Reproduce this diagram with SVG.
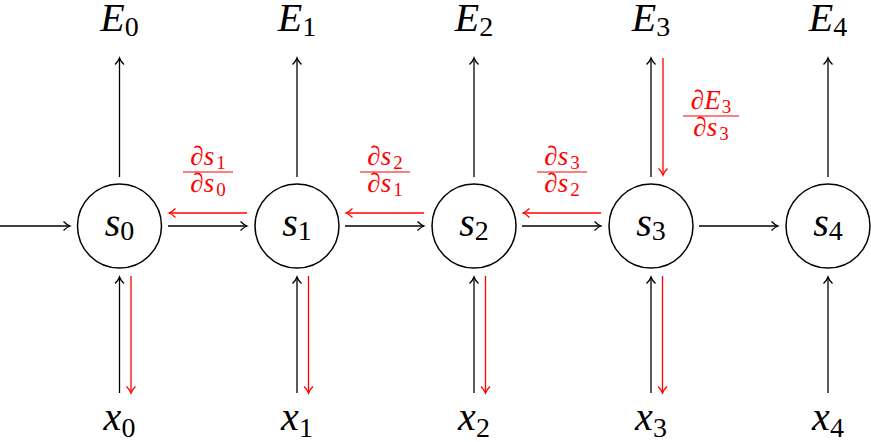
<svg xmlns="http://www.w3.org/2000/svg" width="871" height="442" viewBox="0 0 871 442">
<defs>
<marker id="ab" markerWidth="12" markerHeight="12" refX="10" refY="6" orient="auto" markerUnits="userSpaceOnUse"><path d="M3.5 1.5 Q7 5 10 6 Q7 7 3.5 10.5" fill="none" stroke="#000" stroke-width="1.3"/></marker>
<marker id="ar" markerWidth="12" markerHeight="12" refX="10" refY="6" orient="auto" markerUnits="userSpaceOnUse"><path d="M3.5 1.5 Q7 5 10 6 Q7 7 3.5 10.5" fill="none" stroke="#f00" stroke-width="1.3"/></marker>
</defs>
<g id="connectors" fill="none" stroke-width="1.3">
<g stroke="#000" marker-end="url(#ab)">
<line x1="0" y1="226" x2="70" y2="226"/>
<line x1="168" y1="226" x2="247" y2="226"/>
<line x1="345" y1="226" x2="424" y2="226"/>
<line x1="522" y1="226" x2="601" y2="226"/>
<line x1="699" y1="226" x2="778" y2="226"/>
<line x1="119.5" y1="177" x2="119.5" y2="58"/>
<line x1="297" y1="177" x2="297" y2="58"/>
<line x1="474" y1="177" x2="474" y2="58"/>
<line x1="651" y1="177" x2="651" y2="58"/>
<line x1="828" y1="177" x2="828" y2="58"/>
<line x1="119.5" y1="393" x2="119.5" y2="277"/>
<line x1="297" y1="393" x2="297" y2="277"/>
<line x1="474" y1="393" x2="474" y2="277"/>
<line x1="651" y1="393" x2="651" y2="277"/>
<line x1="828" y1="393" x2="828" y2="277"/>
</g>
<g stroke="#f00" marker-end="url(#ar)">
<line x1="247" y1="213" x2="169" y2="213"/>
<line x1="424" y1="213" x2="346" y2="213"/>
<line x1="601" y1="213" x2="523" y2="213"/>
<line x1="663" y1="58" x2="663" y2="175"/>
<line x1="131" y1="276" x2="131" y2="393"/>
<line x1="308.5" y1="276" x2="308.5" y2="393"/>
<line x1="485.5" y1="276" x2="485.5" y2="393"/>
<line x1="662.5" y1="276" x2="662.5" y2="393"/>
</g>
</g>
<g id="grad-labels" fill="#f00" text-anchor="middle" font-size="27" font-family="Liberation Serif">
<text x="208" y="165">∂<tspan font-style="italic">s</tspan><tspan font-size="19" dx="2" dy="4">1</tspan></text>
<line x1="183" y1="172" x2="233" y2="172" stroke="#f00" stroke-width="1.2"/>
<text x="208" y="192">∂<tspan font-style="italic">s</tspan><tspan font-size="19" dx="2" dy="4">0</tspan></text>
<text x="385" y="165">∂<tspan font-style="italic">s</tspan><tspan font-size="19" dx="2" dy="4">2</tspan></text>
<line x1="360" y1="172" x2="410" y2="172" stroke="#f00" stroke-width="1.2"/>
<text x="385" y="192">∂<tspan font-style="italic">s</tspan><tspan font-size="19" dx="2" dy="4">1</tspan></text>
<text x="562" y="165">∂<tspan font-style="italic">s</tspan><tspan font-size="19" dx="2" dy="4">3</tspan></text>
<line x1="537" y1="172" x2="587" y2="172" stroke="#f00" stroke-width="1.2"/>
<text x="562" y="192">∂<tspan font-style="italic">s</tspan><tspan font-size="19" dx="2" dy="4">2</tspan></text>
<text x="711" y="109">∂<tspan font-style="italic">E</tspan><tspan font-size="19" dx="1" dy="4">3</tspan></text>
<line x1="683" y1="116" x2="739" y2="116" stroke="#f00" stroke-width="1.2"/>
<text x="711" y="136">∂<tspan font-style="italic">s</tspan><tspan font-size="19" dx="2" dy="4">3</tspan></text>
</g>
<g font-family="Liberation Serif" font-size="40" text-anchor="middle">
<g id="s0"><circle cx="119.5" cy="226" r="42" fill="#fff" stroke="#000" stroke-width="1.5"/><text x="119.5" y="236"><tspan font-style="italic">s</tspan><tspan font-size="28" dy="4">0</tspan></text></g>
<g id="s1"><circle cx="297" cy="226" r="42" fill="#fff" stroke="#000" stroke-width="1.5"/><text x="297" y="236"><tspan font-style="italic">s</tspan><tspan font-size="28" dy="4">1</tspan></text></g>
<g id="s2"><circle cx="474" cy="226" r="42" fill="#fff" stroke="#000" stroke-width="1.5"/><text x="474" y="236"><tspan font-style="italic">s</tspan><tspan font-size="28" dy="4">2</tspan></text></g>
<g id="s3"><circle cx="651" cy="226" r="42" fill="#fff" stroke="#000" stroke-width="1.5"/><text x="651" y="236"><tspan font-style="italic">s</tspan><tspan font-size="28" dy="4">3</tspan></text></g>
<g id="s4"><circle cx="828" cy="226" r="42" fill="#fff" stroke="#000" stroke-width="1.5"/><text x="828" y="236"><tspan font-style="italic">s</tspan><tspan font-size="28" dy="4">4</tspan></text></g>
<g id="E0"><text x="119.5" y="31"><tspan font-style="italic">E</tspan><tspan font-size="28" dy="5">0</tspan></text></g>
<g id="E1"><text x="297" y="31"><tspan font-style="italic">E</tspan><tspan font-size="28" dy="5">1</tspan></text></g>
<g id="E2"><text x="474" y="31"><tspan font-style="italic">E</tspan><tspan font-size="28" dy="5">2</tspan></text></g>
<g id="E3"><text x="651" y="31"><tspan font-style="italic">E</tspan><tspan font-size="28" dy="5">3</tspan></text></g>
<g id="E4"><text x="828" y="31"><tspan font-style="italic">E</tspan><tspan font-size="28" dy="5">4</tspan></text></g>
<g id="x0"><text x="119.5" y="430"><tspan font-style="italic">x</tspan><tspan font-size="28" dy="7">0</tspan></text></g>
<g id="x1"><text x="297" y="430"><tspan font-style="italic">x</tspan><tspan font-size="28" dy="7">1</tspan></text></g>
<g id="x2"><text x="474" y="430"><tspan font-style="italic">x</tspan><tspan font-size="28" dy="7">2</tspan></text></g>
<g id="x3"><text x="651" y="430"><tspan font-style="italic">x</tspan><tspan font-size="28" dy="7">3</tspan></text></g>
<g id="x4"><text x="828" y="430"><tspan font-style="italic">x</tspan><tspan font-size="28" dy="7">4</tspan></text></g>
</g>
</svg>
